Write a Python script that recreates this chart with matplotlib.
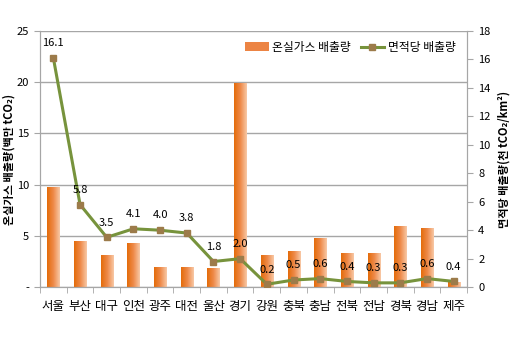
import numpy as np
import matplotlib
matplotlib.use('Agg')
import matplotlib.pyplot as plt
from matplotlib.lines import Line2D
from matplotlib.patches import Patch
from matplotlib.colors import LinearSegmentedColormap

plt.rcParams['font.family'] = ['Noto Sans CJK KR', 'DejaVu Sans']

# data
regions = ['서울', '부산', '대구', '인천', '광주', '대전', '울산', '경기',
           '강원', '충북', '충남', '전북', '전남', '경북', '경남', '제주']
emissions = [9.8, 4.5, 3.1, 4.3, 2.0, 2.0, 1.9, 19.9,
             3.1, 3.5, 4.8, 3.3, 3.3, 6.0, 5.8, 0.5]
per_area = [16.1, 5.8, 3.5, 4.1, 4.0, 3.8, 1.8, 2.0,
            0.2, 0.5, 0.6, 0.4, 0.3, 0.3, 0.6, 0.4]
left_ticks = [0, 5, 10, 15, 20, 25]
left_labels = ['-', '5', '10', '15', '20', '25']
right_ticks = list(range(0, 19, 2))

bar_color = '#EC8444'
line_color = '#77933C'
marker_color = '#9C7B4A'
grid_color = '#A6A6A6'
fam = ['Noto Sans CJK KR', 'DejaVu Sans']
grad = LinearSegmentedColormap.from_list('bar', ['#E46C0A', '#EE8A4A', '#F8C9A6'])

fig = plt.figure(figsize=(5.2, 3.37), dpi=100)
ax = fig.add_axes([0.077, 0.148, 0.821, 0.76])
ax2 = ax.twinx()

x = np.arange(len(regions))
bars = ax.bar(x, emissions, width=0.45, color=bar_color, edgecolor='none', zorder=2)
# horizontal gradient inside each bar
g = np.linspace(0, 1, 64).reshape(1, -1)
for b in bars:
    x0, y0 = b.get_x(), b.get_y()
    im = ax.imshow(g, cmap=grad, aspect='auto', zorder=2.1,
                   extent=(x0, x0 + b.get_width(), y0, y0 + b.get_height()))
    im.set_clip_path(b)

ax.set_ylim(0, 25)
ax.set_xlim(-0.5, len(regions) - 0.5)
ax.set_yticks(left_ticks)
ax.set_yticklabels(left_labels)
ax.yaxis.grid(True, color=grid_color, linewidth=1.0, zorder=0)
ax.set_axisbelow(True)

ax.set_xticks(x)
ax.set_xticklabels(regions, fontsize=9)
ax.set_xticks(np.arange(-0.5, len(regions)), minor=True)
ax.tick_params(axis='x', which='major', length=0, pad=9)
ax.tick_params(axis='x', which='minor', length=4, color=grid_color)
ax.tick_params(axis='y', length=4, color=grid_color, labelsize=8, pad=4)

for s in ['top']:
    ax.spines[s].set_visible(False)
    ax2.spines[s].set_visible(False)
for s in ['left', 'bottom', 'right']:
    ax.spines[s].set_color(grid_color)
    ax2.spines[s].set_color(grid_color)

ax2.plot(x, per_area, color=line_color, linewidth=2.2, marker='s',
         markersize=4.5, markerfacecolor=marker_color,
         markeredgecolor=marker_color, zorder=3)
ax2.set_ylim(0, 18)
ax2.set_yticks(right_ticks)
ax2.tick_params(axis='y', length=4, color=grid_color, labelsize=8, pad=4)

for xi, v in zip(x, per_area):
    ax2.annotate(f'{v:.1f}', (xi, v), xytext=(0, 7), textcoords='offset points',
                 ha='center', va='bottom', fontsize=8)

ax.set_ylabel('온실가스 배출량(백만 tCO₂)', fontsize=8, fontweight='bold',
              labelpad=1, family=fam)
ax2.set_ylabel('면적당 배출량(천 tCO₂/km²)', fontsize=8, fontweight='bold',
               rotation=90, labelpad=5, family=fam)

handles = [Patch(facecolor=bar_color, edgecolor='none'),
           Line2D([0], [0], color=line_color, linewidth=2.2, marker='s',
                  markersize=4.5, markerfacecolor=marker_color,
                  markeredgecolor=marker_color)]
ax2.legend(handles, ['온실가스 배출량', '면적당 배출량'], loc='upper right',
           ncol=2, frameon=False, fontsize=8.5, handlelength=2.0,
           handletextpad=0.3, columnspacing=0.8, bbox_to_anchor=(0.99, 0.99),
           borderaxespad=0.2)

fig.savefig('out.png', dpi=100)
